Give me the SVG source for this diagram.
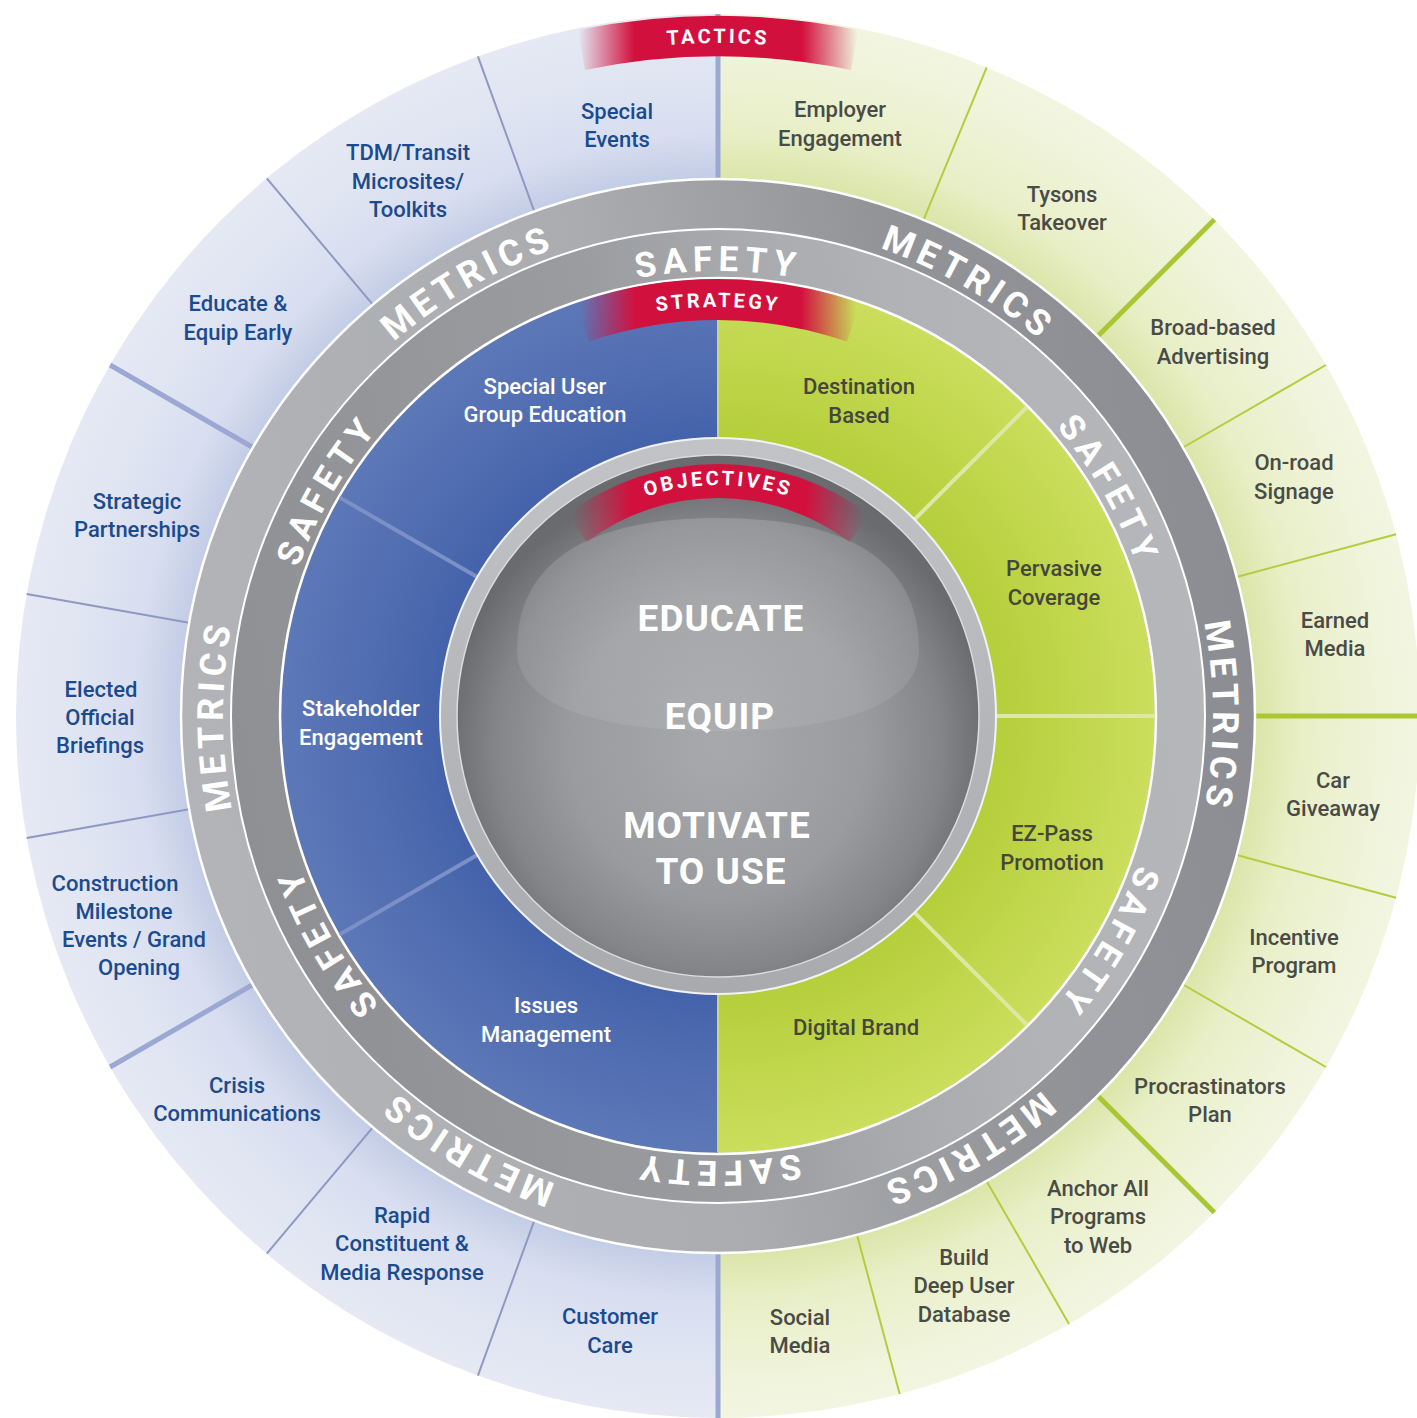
<svg xmlns="http://www.w3.org/2000/svg" width="1417" height="1418" viewBox="0 0 1417 1418">
<defs>
<style>
text{font-family:Roboto,"Open Sans","DejaVu Sans",sans-serif}
.tb{font-size:22px;font-weight:500;fill:#1b4b8e;text-anchor:middle}
.tg{font-size:22px;font-weight:500;fill:#4a4b46;text-anchor:middle}
.sw{font-size:22px;font-weight:500;fill:#ffffff;text-anchor:middle}
.sg{font-size:22px;font-weight:500;fill:#45473b;text-anchor:middle}
.rt{font-weight:700;fill:#ffffff;text-anchor:middle}
.saf{font-size:35px;letter-spacing:6px}
.met{font-size:36px;letter-spacing:5px}
.ban{font-size:20px;font-weight:700;fill:#ffffff;text-anchor:middle;letter-spacing:3px}
.core{font-size:37px;font-weight:700;fill:#ffffff;text-anchor:middle;letter-spacing:1px}
.dl{stroke:#8e99c2;stroke-width:2}
.dlt{stroke:#9ba8d3;stroke-width:5}
.dg{stroke:#b3cd3f;stroke-width:2}
.dgt{stroke:#a9c733;stroke-width:5}
.wl{fill:none;stroke:#ffffff}
</style>
<radialGradient id="gTB" gradientUnits="userSpaceOnUse" cx="718" cy="716" r="702">
<stop offset="0.76" stop-color="#c1cbe5"/>
<stop offset="0.83" stop-color="#d8def0"/>
<stop offset="0.92" stop-color="#e0e5f2"/>
<stop offset="1" stop-color="#e6e9f4"/>
</radialGradient>
<radialGradient id="gTG" gradientUnits="userSpaceOnUse" cx="718" cy="716" r="702">
<stop offset="0.76" stop-color="#dae4a6"/>
<stop offset="0.83" stop-color="#e8efc6"/>
<stop offset="0.92" stop-color="#eef3d7"/>
<stop offset="1" stop-color="#f2f6e1"/>
</radialGradient>
<radialGradient id="gSB" gradientUnits="userSpaceOnUse" cx="718" cy="716" r="437">
<stop offset="0.63" stop-color="#4462aa"/>
<stop offset="0.8" stop-color="#506db1"/>
<stop offset="1" stop-color="#5d78b7"/>
</radialGradient>
<radialGradient id="gSG" gradientUnits="userSpaceOnUse" cx="718" cy="716" r="437">
<stop offset="0.63" stop-color="#b5ce3a"/>
<stop offset="1" stop-color="#cbde5d"/>
</radialGradient>
<linearGradient id="gOut" gradientUnits="userSpaceOnUse" x1="181" y1="810" x2="1255" y2="622">
<stop offset="0" stop-color="#b3b4b7"/>
<stop offset="0.45" stop-color="#abacaf"/>
<stop offset="0.58" stop-color="#a0a1a5"/>
<stop offset="0.72" stop-color="#939498"/>
<stop offset="1" stop-color="#8c8d92"/>
</linearGradient>
<linearGradient id="gIn" gradientUnits="userSpaceOnUse" x1="181" y1="810" x2="1255" y2="622">
<stop offset="0" stop-color="#8d8e92"/>
<stop offset="0.45" stop-color="#9b9ca0"/>
<stop offset="0.58" stop-color="#a8a9ac"/>
<stop offset="0.72" stop-color="#b1b2b5"/>
<stop offset="1" stop-color="#b7b8bc"/>
</linearGradient>
<linearGradient id="gRing" x1="0" y1="0" x2="0" y2="1">
<stop offset="0" stop-color="#c2c3c6"/>
<stop offset="1" stop-color="#a9aaad"/>
</linearGradient>
<radialGradient id="gSphere" cx="0.5" cy="0.56" r="0.52">
<stop offset="0" stop-color="#a8a9ac"/>
<stop offset="0.55" stop-color="#9a9b9e"/>
<stop offset="0.82" stop-color="#848589"/>
<stop offset="1" stop-color="#6a6b6f"/>
</radialGradient>
<linearGradient id="gHi" x1="0" y1="0" x2="0" y2="1">
<stop offset="0" stop-color="#ffffff" stop-opacity="0.16"/>
<stop offset="1" stop-color="#ffffff" stop-opacity="0.07"/>
</linearGradient>
<linearGradient id="gRedT" gradientUnits="userSpaceOnUse" x1="578" y1="0" x2="858" y2="0">
<stop offset="0" stop-color="#d2103e" stop-opacity="0"/>
<stop offset="0.2" stop-color="#d2103e" stop-opacity="1"/>
<stop offset="0.8" stop-color="#d2103e" stop-opacity="1"/>
<stop offset="1" stop-color="#d2103e" stop-opacity="0"/>
</linearGradient>
<linearGradient id="gRedS" gradientUnits="userSpaceOnUse" x1="580" y1="0" x2="856" y2="0">
<stop offset="0" stop-color="#d2103e" stop-opacity="0"/>
<stop offset="0.2" stop-color="#d2103e" stop-opacity="1"/>
<stop offset="0.8" stop-color="#d2103e" stop-opacity="1"/>
<stop offset="1" stop-color="#d2103e" stop-opacity="0"/>
</linearGradient>
<linearGradient id="gRedO" gradientUnits="userSpaceOnUse" x1="572" y1="0" x2="864" y2="0">
<stop offset="0" stop-color="#d2103e" stop-opacity="0"/>
<stop offset="0.2" stop-color="#d2103e" stop-opacity="1"/>
<stop offset="0.8" stop-color="#d2103e" stop-opacity="1"/>
<stop offset="1" stop-color="#d2103e" stop-opacity="0"/>
</linearGradient>
<path id="pTac" d="M718 1389A673 673 0 0 1 718 43A673 673 0 0 1 718 1389"/>
<path id="pStr" d="M718 1125A409 409 0 0 1 718 307A409 409 0 0 1 718 1125"/>
<path id="pObj" d="M718 947A231 231 0 0 1 718 485A231 231 0 0 1 718 947"/>
<path id="s0" d="M718 1161A445 445 0 0 1 718 271A445 445 0 0 1 718 1161"/>
<path id="s180" d="M718 271A445 445 0 0 1 718 1161A445 445 0 0 1 718 271"/>
<path id="s60" d="M332.6 938.5A445 445 0 0 1 1103.4 493.5A445 445 0 0 1 332.6 938.5"/>
<path id="s240" d="M1103.4 493.5A445 445 0 0 1 332.6 938.5A445 445 0 0 1 1103.4 493.5"/>
<path id="s120" d="M332.6 493.5A445 445 0 0 1 1103.4 938.5A445 445 0 0 1 332.6 493.5"/>
<path id="s300" d="M1103.4 938.5A445 445 0 0 1 332.6 493.5A445 445 0 0 1 1103.4 938.5"/>
<path id="m30" d="M470.5 1144.7A495 495 0 0 1 965.5 287.3A495 495 0 0 1 470.5 1144.7"/>
<path id="m210" d="M965.5 287.3A495 495 0 0 1 470.5 1144.7A495 495 0 0 1 965.5 287.3"/>
<path id="m150" d="M470.5 287.3A495 495 0 0 1 965.5 1144.7A495 495 0 0 1 470.5 287.3"/>
<path id="m330" d="M965.5 1144.7A495 495 0 0 1 470.5 287.3A495 495 0 0 1 965.5 1144.7"/>
<path id="m90" d="M223 716A495 495 0 0 1 1213 716A495 495 0 0 1 223 716"/>
<path id="m270" d="M1213 716A495 495 0 0 1 223 716A495 495 0 0 1 1213 716"/>
</defs>

<g id="tactics-ring">
<path d="M718 14A702 702 0 0 0 718 1418Z" fill="url(#gTB)"/>
<path d="M718 14A702 702 0 0 1 718 1418Z" fill="url(#gTG)"/>
</g>

<g id="connectors">
<line class="dlt" x1="718" y1="14" x2="718" y2="180" stroke="#a2aed8"/>
<line class="dlt" x1="718" y1="1252" x2="718" y2="1418" stroke="#a2aed8"/>
<line class="dl" x1="534.3" y1="211.4" x2="477.9" y2="56.3"/>
<line class="dl" x1="372.8" y1="304.7" x2="266.8" y2="178.3"/>
<line class="dlt" x1="253" y1="447.5" x2="110.1" y2="365"/>
<line class="dl" x1="189.2" y1="622.8" x2="26.7" y2="594.1"/>
<line class="dl" x1="189.2" y1="809.2" x2="26.7" y2="837.9"/>
<line class="dlt" x1="253" y1="984.5" x2="110.1" y2="1067"/>
<line class="dl" x1="372.8" y1="1127.3" x2="266.8" y2="1253.7"/>
<line class="dl" x1="534.3" y1="1220.6" x2="477.9" y2="1375.7"/>
<line class="dg" x1="923.5" y1="219.9" x2="986.7" y2="67.4"/>
<line class="dgt" x1="1097.7" y1="336.3" x2="1214.4" y2="219.6"/>
<line class="dg" x1="1183" y1="447.5" x2="1325.9" y2="365"/>
<line class="dg" x1="1236.7" y1="577" x2="1396.1" y2="534.3"/>
<line class="dgt" x1="1255" y1="716" x2="1417" y2="716"/>
<line class="dg" x1="1236.7" y1="855" x2="1396.1" y2="897.7"/>
<line class="dg" x1="1183" y1="984.5" x2="1325.9" y2="1067"/>
<line class="dgt" x1="1097.7" y1="1095.7" x2="1214.4" y2="1212.4"/>
<line class="dg" x1="986.5" y1="1181" x2="1069" y2="1323.9"/>
<line class="dg" x1="857" y1="1234.7" x2="899.7" y2="1394.1"/>
</g>

<g id="tactics-banner">
<path d="M578 30A702 702 0 0 1 858 30L851 70A660 660 0 0 0 585 70Z" fill="url(#gRedT)"/>
<text class="ban" font-size="21"><textPath href="#pTac" startOffset="50%">TACTICS</textPath></text>
</g>

<g id="metrics-safety-ring">
<circle cx="718" cy="716" r="537" fill="url(#gOut)"/>
<circle cx="718" cy="716" r="487" fill="url(#gIn)"/>
<circle class="wl" cx="718" cy="716" r="537" stroke-width="2.5"/>
<circle class="wl" cx="718" cy="716" r="487" stroke-width="2"/>
</g>

<g id="strategy-ring">
<path d="M718 279A437 437 0 0 0 718 1153Z" fill="url(#gSB)"/>
<path d="M718 279A437 437 0 0 1 718 1153Z" fill="url(#gSG)"/>
<circle class="wl" cx="718" cy="716" r="438" stroke-width="2.5"/>
<line x1="718" y1="280" x2="718" y2="1152" stroke="#c9d77a" stroke-width="2"/>
<g stroke="#7a90c6" stroke-width="4">
<line x1="478.1" y1="577.5" x2="339.6" y2="497.5"/>
<line x1="478.1" y1="854.5" x2="339.6" y2="934.5"/>
</g>
<g stroke="#dde8a4" stroke-width="4">
<line x1="913.9" y1="520.1" x2="1027" y2="407"/>
<line x1="995" y1="716" x2="1155" y2="716"/>
<line x1="913.9" y1="911.9" x2="1027" y2="1025"/>
</g>
</g>

<g id="strategy-banner">
<path d="M575.7 302.8A437 437 0 0 1 860.3 302.8L846.9 341.6A396 396 0 0 0 589.1 341.6Z" fill="url(#gRedS)"/>
<text class="ban"><textPath href="#pStr" startOffset="50%">STRATEGY</textPath></text>
</g>

<g id="objectives-core">
<circle cx="718" cy="716" r="278" fill="url(#gRing)" stroke="#f2f2f2" stroke-width="2"/>
<circle cx="718" cy="716" r="261" fill="url(#gSphere)" stroke="#dcdcdd" stroke-width="1.5"/>
<path d="M517 650C517 560 590 518 718 518C846 518 919 560 919 650C919 705 840 731 718 731C596 731 517 705 517 650Z" fill="url(#gHi)"/>
<path d="M566.3 514.8A252 252 0 0 1 869.7 514.8L849.2 541.9A218 218 0 0 0 586.8 541.9Z" fill="url(#gRedO)"/>
<text class="ban"><textPath href="#pObj" startOffset="50%">OBJECTIVES</textPath></text>
<text class="core" x="721" y="631">EDUCATE</text>
<text class="core" x="720" y="729">EQUIP</text>
<text class="core" x="717" y="838">MOTIVATE</text>
<text class="core" x="721" y="884">TO USE</text>
</g>

<g id="ring-labels">
<text class="rt saf"><textPath href="#s0" startOffset="50%">SAFETY</textPath></text>
<text class="rt saf"><textPath href="#s60" startOffset="50%">SAFETY</textPath></text>
<text class="rt saf"><textPath href="#s120" startOffset="50%">SAFETY</textPath></text>
<text class="rt saf"><textPath href="#s180" startOffset="50%">SAFETY</textPath></text>
<text class="rt saf"><textPath href="#s240" startOffset="50%">SAFETY</textPath></text>
<text class="rt saf"><textPath href="#s300" startOffset="50%">SAFETY</textPath></text>
<text class="rt met"><textPath href="#m30" startOffset="50%">METRICS</textPath></text>
<text class="rt met"><textPath href="#m90" startOffset="50%">METRICS</textPath></text>
<text class="rt met"><textPath href="#m150" startOffset="50%">METRICS</textPath></text>
<text class="rt met"><textPath href="#m210" startOffset="50%">METRICS</textPath></text>
<text class="rt met"><textPath href="#m270" startOffset="50%">METRICS</textPath></text>
<text class="rt met"><textPath href="#m330" startOffset="50%">METRICS</textPath></text>
</g>

<g id="strategy-special-user"><text class="sw"><tspan x="545" y="394">Special User</tspan><tspan x="545" y="422">Group Education</tspan></text></g>
<g id="strategy-stakeholder"><text class="sw"><tspan x="361" y="716">Stakeholder</tspan><tspan x="361" y="745">Engagement</tspan></text></g>
<g id="strategy-issues"><text class="sw"><tspan x="546" y="1013">Issues</tspan><tspan x="546" y="1042">Management</tspan></text></g>
<g id="strategy-destination"><text class="sg"><tspan x="859" y="394">Destination</tspan><tspan x="859" y="423">Based</tspan></text></g>
<g id="strategy-pervasive"><text class="sg"><tspan x="1054" y="576">Pervasive</tspan><tspan x="1054" y="605">Coverage</tspan></text></g>
<g id="strategy-ezpass"><text class="sg"><tspan x="1052" y="841">EZ-Pass</tspan><tspan x="1052" y="870">Promotion</tspan></text></g>
<g id="strategy-digital"><text class="sg"><tspan x="856" y="1035">Digital Brand</tspan></text></g>

<g id="tactic-special-events"><text class="tb"><tspan x="617" y="119">Special</tspan><tspan x="617" y="147">Events</tspan></text></g>
<g id="tactic-tdm"><text class="tb"><tspan x="408" y="160">TDM/Transit</tspan><tspan x="408" y="189">Microsites/</tspan><tspan x="408" y="217">Toolkits</tspan></text></g>
<g id="tactic-educate"><text class="tb"><tspan x="238" y="311">Educate &amp;</tspan><tspan x="238" y="340">Equip Early</tspan></text></g>
<g id="tactic-strategic"><text class="tb"><tspan x="137" y="509">Strategic</tspan><tspan x="137" y="537">Partnerships</tspan></text></g>
<g id="tactic-elected"><text class="tb"><tspan x="101" y="697">Elected</tspan><tspan x="100" y="725">Official</tspan><tspan x="100" y="753">Briefings</tspan></text></g>
<g id="tactic-construction"><text class="tb"><tspan x="115" y="891">Construction</tspan><tspan x="124" y="919">Milestone</tspan><tspan x="134" y="947">Events / Grand</tspan><tspan x="139" y="975">Opening</tspan></text></g>
<g id="tactic-crisis"><text class="tb"><tspan x="237" y="1093">Crisis</tspan><tspan x="237" y="1121">Communications</tspan></text></g>
<g id="tactic-rapid"><text class="tb"><tspan x="402" y="1223">Rapid</tspan><tspan x="402" y="1251">Constituent &amp;</tspan><tspan x="402" y="1280">Media Response</tspan></text></g>
<g id="tactic-customer"><text class="tb"><tspan x="610" y="1324">Customer</tspan><tspan x="610" y="1353">Care</tspan></text></g>

<g id="tactic-employer"><text class="tg"><tspan x="840" y="117">Employer</tspan><tspan x="840" y="146">Engagement</tspan></text></g>
<g id="tactic-tysons"><text class="tg"><tspan x="1062" y="202">Tysons</tspan><tspan x="1062" y="230">Takeover</tspan></text></g>
<g id="tactic-broad"><text class="tg"><tspan x="1213" y="335">Broad-based</tspan><tspan x="1213" y="364">Advertising</tspan></text></g>
<g id="tactic-onroad"><text class="tg"><tspan x="1294" y="470">On-road</tspan><tspan x="1294" y="499">Signage</tspan></text></g>
<g id="tactic-earned"><text class="tg"><tspan x="1335" y="628">Earned</tspan><tspan x="1335" y="656">Media</tspan></text></g>
<g id="tactic-car"><text class="tg"><tspan x="1333" y="788">Car</tspan><tspan x="1333" y="816">Giveaway</tspan></text></g>
<g id="tactic-incentive"><text class="tg"><tspan x="1294" y="945">Incentive</tspan><tspan x="1294" y="973">Program</tspan></text></g>
<g id="tactic-procrastinators"><text class="tg"><tspan x="1210" y="1094">Procrastinators</tspan><tspan x="1210" y="1122">Plan</tspan></text></g>
<g id="tactic-anchor"><text class="tg"><tspan x="1098" y="1196">Anchor All</tspan><tspan x="1098" y="1224">Programs</tspan><tspan x="1098" y="1253">to Web</tspan></text></g>
<g id="tactic-build"><text class="tg"><tspan x="964" y="1265">Build</tspan><tspan x="964" y="1293">Deep User</tspan><tspan x="964" y="1322">Database</tspan></text></g>
<g id="tactic-social"><text class="tg"><tspan x="800" y="1325">Social</tspan><tspan x="800" y="1353">Media</tspan></text></g>
</svg>
